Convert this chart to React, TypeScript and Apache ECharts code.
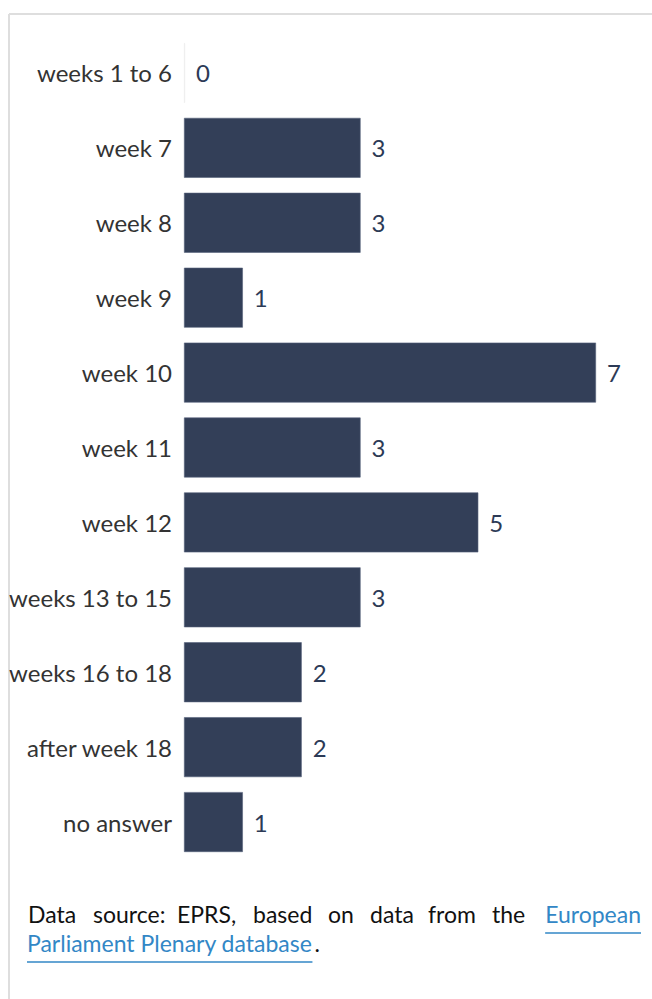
import React, { useEffect, useRef } from "react";
import * as echarts from "echarts";

const categories = [
  "weeks 1 to 6",
  "week 7",
  "week 8",
  "week 9",
  "week 10",
  "week 11",
  "week 12",
  "weeks 13 to 15",
  "weeks 16 to 18",
  "after week 18",
  "no answer",
];
const values = [0, 3, 3, 1, 7, 3, 5, 3, 2, 2, 1];

const sourceWords = ["Data", "source:", "EPRS,", "based", "on", "data", "from", "the"];
const sourceWordX = [28, 93, 177, 253, 328, 370, 428, 492];
const linkLine1 = "European";
const linkLine2 = "Parliament Plenary database";

const LABEL_FONT = "Lato, 'Open Sans', sans-serif";
const BODY = "Lato, 'Open Sans', sans-serif";
const BODY_SIZE = 23;

function measure(text: string, font: string): number {
  const c = document.createElement("canvas").getContext("2d");
  if (!c) return text.length * 10;
  c.font = font;
  return c.measureText(text).width;
}

export default function App() {
  const ref = useRef<HTMLDivElement>(null);
  useEffect(() => {
    if (!ref.current) return;
    const chart = echarts.init(ref.current, undefined, { renderer: "svg" });
    const bodyFont = `${BODY_SIZE}px ${BODY}`;
    const base1 = 925;
    const base2 = 954;
    const link = "#3287c6";
    const graphic: any[] = [
      { type: "line", shape: { x1: 9, y1: 14, x2: 652, y2: 14 }, style: { stroke: "#dedede", lineWidth: 2 } },
      { type: "line", shape: { x1: 9, y1: 14, x2: 9, y2: 999 }, style: { stroke: "#dedede", lineWidth: 2 } },
    ];
    sourceWords.forEach((w, i) => {
      graphic.push({
        type: "text",
        x: sourceWordX[i],
        y: base1,
        style: { text: w, fill: "#111", font: bodyFont, textVerticalAlign: "bottom" },
      });
    });
    const w1 = measure(linkLine1, bodyFont);
    graphic.push({
      type: "text",
      x: 641,
      y: base1,
      style: { text: linkLine1, fill: link, font: bodyFont, textAlign: "right", textVerticalAlign: "bottom" },
    });
    graphic.push({ type: "line", shape: { x1: 641 - w1, y1: base1 + 8, x2: 641, y2: base1 + 8 }, style: { stroke: link, lineWidth: 1.5 } });
    const w2 = measure(linkLine2, bodyFont);
    graphic.push({
      type: "text",
      x: 27,
      y: base2,
      style: { text: linkLine2, fill: link, font: bodyFont, textVerticalAlign: "bottom" },
    });
    graphic.push({ type: "line", shape: { x1: 27, y1: base2 + 8, x2: 27 + w2, y2: base2 + 8 }, style: { stroke: link, lineWidth: 1.5 } });
    graphic.push({
      type: "text",
      x: 27 + w2 + 2,
      y: base2,
      style: { text: ".", fill: "#111", font: bodyFont, textVerticalAlign: "bottom" },
    });

    chart.setOption({
      animation: false,
      grid: { left: 184, right: 56, top: 35.5, bottom: 139.5, containLabel: false, outerBoundsMode: "none" },
      xAxis: {
        type: "value",
        min: 0,
        max: 7,
        show: false,
      },
      yAxis: {
        type: "category",
        data: categories,
        inverse: true,
        axisLine: { show: false },
        axisTick: { show: false },
        axisLabel: { color: "#333", fontSize: 24, fontFamily: LABEL_FONT, margin: 12 },
      },
      series: [
        {
          type: "bar",
          data: values.map((v) =>
            v === 0 ? { value: v, itemStyle: { color: "#ebebeb", borderColor: "#ebebeb" } } : { value: v }
          ),
          barCategoryGap: "20%",
          barMinHeight: 1,
          itemStyle: { color: "#333f58", borderColor: "#56617a", borderWidth: 0.6 },
          label: {
            show: true,
            position: "right",
            distance: 11,
            color: "#2c3a56",
            fontSize: 24,
            fontFamily: LABEL_FONT,
          },
        },
      ],
      graphic,
    });
    return () => chart.dispose();
  }, []);
  return <div ref={ref} style={{ position: "fixed", left: 0, top: 0, width: 652, height: 999, background: "#fff" }} />;
}
